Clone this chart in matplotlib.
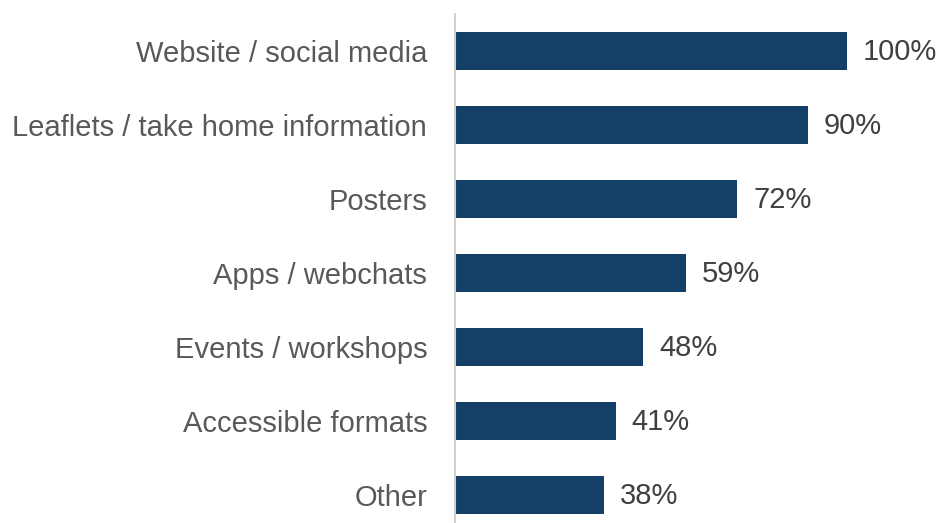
import matplotlib.pyplot as plt

plt.rcParams['font.family'] = ['Liberation Sans', 'DejaVu Sans']

categories = ['Website / social media', 'Leaflets / take home information', 'Posters',
              'Apps / webchats', 'Events / workshops', 'Accessible formats', 'Other']
values = [100, 90, 72, 59, 48, 41, 38]

W, H = 939, 523
fig = plt.figure(figsize=(W / 100, H / 100), dpi=100)
# axes box in pixel terms: left edge at the axis line, bands of 74 px per bar
left, top, bottom = 455, 14, 532
ax = fig.add_axes([left / W, 1 - bottom / H, (W - left) / W, (bottom - top) / H])

y = list(range(len(categories)))
bars = ax.barh(y, values, height=0.52, color='#143F66')
ax.set_ylim(len(categories) - 0.5, -0.5)
ax.set_xlim(0, (W - left) / 392 * 100)

ax.set_yticks(y)
ax.set_yticklabels(categories, fontsize=21, color='#595959')
ax.tick_params(axis='y', length=0, pad=20)
ax.set_xticks([])

for s in ['top', 'right', 'bottom']:
    ax.spines[s].set_visible(False)
ax.spines['left'].set_color('#D0D0D0')
ax.spines['left'].set_linewidth(1.5)

# value labels just past the bar ends
for b, v in zip(bars, values):
    ax.annotate('{}%'.format(v), (v, b.get_y() + b.get_height() / 2),
                xytext=(16, -1), textcoords='offset pixels',
                va='center', ha='left', fontsize=21, color='#404040')

fig.savefig('out.png', dpi=100)
